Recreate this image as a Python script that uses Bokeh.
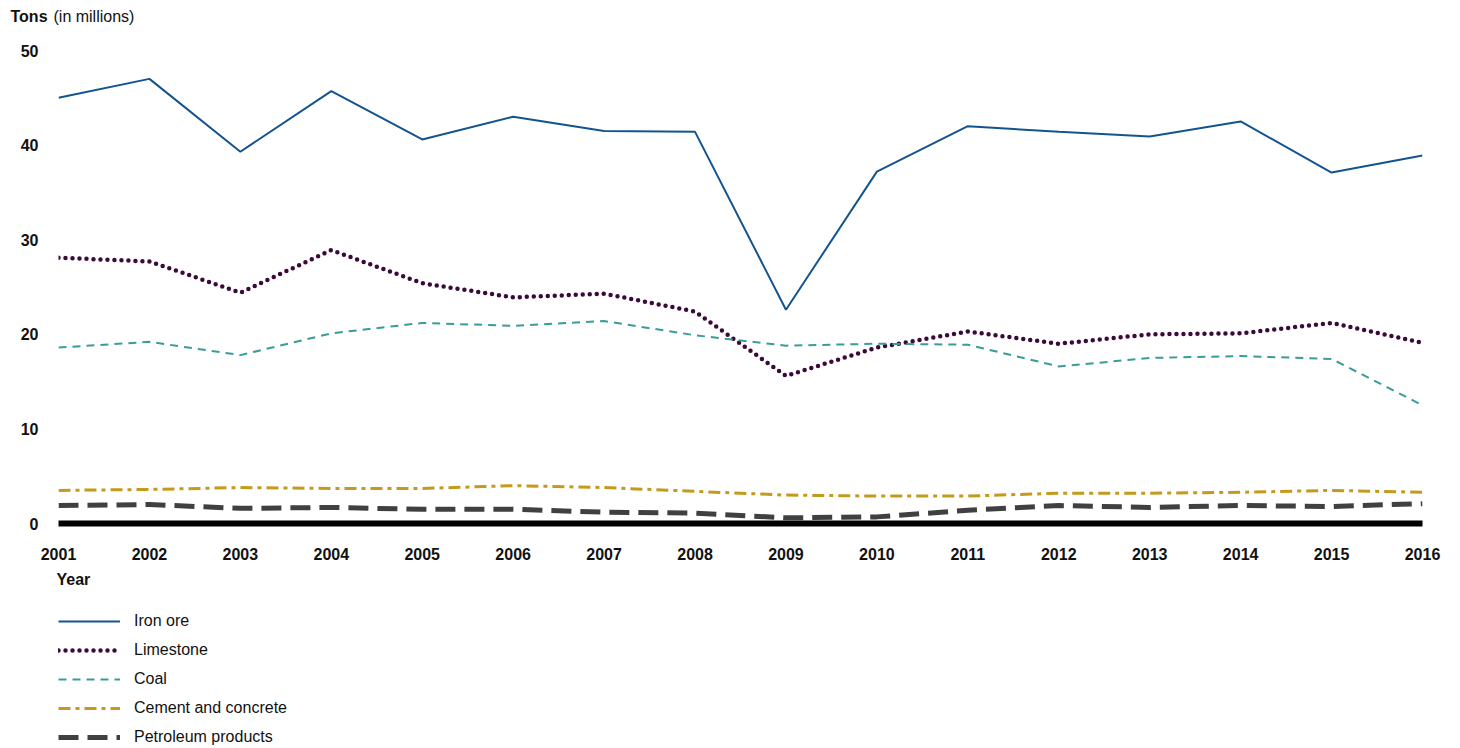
from bokeh.plotting import figure
from bokeh.layouts import column
from bokeh.models import Legend, LegendItem, Title, Label, Range1d, FixedTicker
from bokeh.embed import file_html
from bokeh.resources import INLINE

years = list(range(2001, 2017))
iron_ore = [45.0, 47.0, 39.3, 45.7, 40.6, 43.0, 41.5, 41.4, 22.6, 37.2, 42.0, 41.4, 40.9, 42.5, 37.1, 38.9]
limestone = [28.1, 27.7, 24.4, 28.9, 25.4, 23.9, 24.3, 22.4, 15.6, 18.6, 20.3, 19.0, 20.0, 20.1, 21.2, 19.1]
coal = [18.6, 19.2, 17.8, 20.1, 21.2, 20.9, 21.4, 19.9, 18.8, 19.0, 18.9, 16.6, 17.5, 17.7, 17.4, 12.5]
cement = [3.5, 3.6, 3.8, 3.7, 3.7, 4.0, 3.8, 3.4, 3.0, 2.9, 2.9, 3.2, 3.2, 3.3, 3.5, 3.3]
petroleum = [1.9, 2.0, 1.6, 1.7, 1.5, 1.5, 1.2, 1.1, 0.6, 0.7, 1.4, 1.9, 1.7, 1.9, 1.8, 2.1]
y_ticks = [0, 10, 20, 30, 40, 50]
series = [("Iron ore", iron_ore), ("Limestone", limestone), ("Coal", coal),
          ("Cement and concrete", cement), ("Petroleum products", petroleum)]
styles = [dict(line_color="#13548f", line_width=2),
          dict(line_color="#3b0a3a", line_width=4.5, line_dash="0 7", line_cap="round"),
          dict(line_color="#3a9c98", line_width=2, line_dash="8 6"),
          dict(line_color="#c49a1c", line_width=3, line_dash="12 5 4 5"),
          dict(line_color="#404040", line_width=5, line_dash="20 9")]

F = "Liberation Sans"
TC = "#111111"
W = 1364

# header strip with the unit label
hd = figure(output_backend="svg", toolbar_location=None,
            frame_width=W + 58 + 30, frame_height=32,
            x_range=Range1d(0, 1), y_range=Range1d(0, 1),
            min_border=0)
hd.outline_line_color = None
hd.grid.grid_line_color = None
hd.axis.visible = False
hd.add_layout(Label(x=10, y=16, x_units="screen", y_units="screen",
                    text="Tons", text_font=F, text_font_style="bold", text_color=TC,
                    text_font_size="16px", text_baseline="middle"))
hd.add_layout(Label(x=53, y=16, x_units="screen", y_units="screen",
                    text="(in millions)", text_font=F, text_color=TC,
                    text_font_size="16px", text_baseline="middle"))

p = figure(output_backend="svg", toolbar_location=None,
           frame_width=W, frame_height=473,
           x_range=Range1d(2001, 2016), y_range=Range1d(0, 50),
           min_border_left=58, min_border_top=18, min_border_right=30,
           min_border_bottom=10)
p.outline_line_color = None
p.grid.grid_line_color = None

for (name, vals), st in zip(series, styles):
    p.line(years, vals, **st)

p.xaxis.ticker = FixedTicker(ticks=years)
p.xaxis.axis_line_width = 6
p.xaxis.axis_line_color = "black"
p.xaxis.major_tick_line_color = None
p.xaxis.minor_tick_line_color = None
p.xaxis.major_label_text_font = F
p.xaxis.major_label_text_font_style = "bold"
p.xaxis.major_label_text_font_size = "16px"
p.xaxis.major_label_text_color = TC
p.xaxis.major_label_standoff = 18

p.yaxis.ticker = FixedTicker(ticks=y_ticks)
p.yaxis.axis_line_color = None
p.yaxis.major_tick_line_color = None
p.yaxis.minor_tick_line_color = None
p.yaxis.major_label_text_font = F
p.yaxis.major_label_text_font_style = "bold"
p.yaxis.major_label_text_font_size = "16px"
p.yaxis.major_label_text_color = TC
p.yaxis.major_label_standoff = 14

p.add_layout(Title(text="Year", align="left", text_font=F, text_font_style="bold",
                   text_color=TC, text_font_size="16px", offset=-2, standoff=12), "below")

# legend strip: same series, drawn outside its visible range so only the legend shows
lg = figure(output_backend="svg", toolbar_location=None,
            frame_width=W, frame_height=136,
            x_range=Range1d(0, 1), y_range=Range1d(0, 1),
            min_border_left=58, min_border_top=18, min_border_right=30,
            min_border_bottom=0)
lg.outline_line_color = None
lg.grid.grid_line_color = None
lg.axis.visible = False
items = []
for (name, vals), st in zip(series, styles):
    r = lg.line(years, vals, **st)
    items.append(LegendItem(label=name, renderers=[r]))
legend = Legend(items=items, orientation="vertical", location="top_left",
                label_text_font=F, label_text_font_size="16px", label_text_color=TC,
                glyph_width=62, label_standoff=14, spacing=9,
                border_line_color=None, background_fill_alpha=0,
                padding=0, margin=0)
lg.add_layout(legend)

layout = column(hd, column(p, lg, spacing=0), spacing=0)
open("out.html", "w").write(file_html(layout, INLINE))
